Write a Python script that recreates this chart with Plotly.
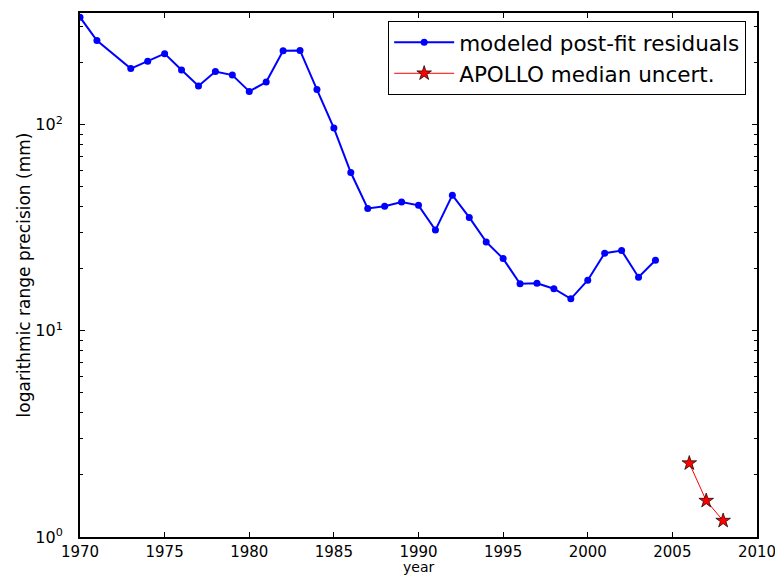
import math
import plotly.graph_objects as go

# Data
model_years = [1970, 1971, 1973, 1974, 1975, 1976, 1977, 1978, 1979, 1980, 1981,
               1982, 1983, 1984, 1985, 1986, 1987, 1988, 1989, 1990, 1991, 1992,
               1993, 1994, 1995, 1996, 1997, 1998, 1999, 2000, 2001, 2002, 2003, 2004]
model_resid = [332, 256, 187, 203, 221, 184, 154, 181, 174, 145, 161,
               228, 229, 148, 96.3, 58.6, 39.2, 40.2, 42.2, 40.6, 30.8, 45.5,
               35.5, 27.0, 22.4, 16.9, 17.0, 16.0, 14.3, 17.6, 23.8, 24.5, 18.2, 22.0]

apollo_years = [2006, 2007, 2008]
apollo_unc = [2.28, 1.50, 1.20]

x_ticks = [1970, 1975, 1980, 1985, 1990, 1995, 2000, 2005, 2010]
y_ticks = [1, 10, 100]
y_ticktext = ["10<sup>0</sup>", "10<sup>1</sup>", "10<sup>2</sup>"]
y_minor = [m * d for d in (1, 10, 100) for m in range(2, 10) if m * d < 350]

FONT = "DejaVu Sans"

fig = go.Figure()
fig.add_trace(go.Scatter(
    x=model_years, y=model_resid, mode="lines+markers",
    name="modeled post-fit residuals",
    line=dict(color="#0000ff", width=2),
    marker=dict(color="#0000ff", size=7, symbol="circle"),
))
fig.add_trace(go.Scatter(
    x=apollo_years, y=apollo_unc, mode="lines+markers",
    name="APOLLO median uncert.",
    line=dict(color="#ff0000", width=1),
    marker=dict(color="#ff0000", size=11, symbol="star",
                line=dict(color="black", width=0.7)),
))

# The page body has an 8px default margin, so the figure is sized to fit the window.
fig.update_layout(
    width=775, height=569,
    margin=dict(l=72, r=26, t=5, b=40, autoexpand=False),
    paper_bgcolor="white", plot_bgcolor="white",
    font=dict(family=FONT, color="black", size=15),
    showlegend=True,
    legend=dict(
        x=0.984, y=0.985, xanchor="right", yanchor="top",
        bordercolor="black", borderwidth=1, bgcolor="white",
        font=dict(size=21.5, family=FONT),
        tracegroupgap=0, itemwidth=60,
    ),
    annotations=[dict(
        text="year", x=0.5, y=0, xref="paper", yref="paper",
        xanchor="center", yanchor="top", yshift=-21, showarrow=False,
        borderpad=0,
        font=dict(size=14, family=FONT, color="black"),
    )],
)

fig.update_xaxes(
    range=[1970, 2010], tickvals=x_ticks, automargin=False,
    ticks="inside", ticklen=5, tickcolor="black", tickwidth=1,
    showline=True, linecolor="black", linewidth=2, mirror="ticks",
    showgrid=False, zeroline=False,
    tickfont=dict(size=15, family=FONT),
)
fig.update_yaxes(
    type="log", range=[0, math.log10(348)], automargin=False,
    tickvals=y_ticks, ticktext=y_ticktext,
    ticks="inside", ticklen=5, tickcolor="black", tickwidth=1,
    minor=dict(tickvals=y_minor, ticks="inside", ticklen=3, tickcolor="black", showgrid=False),
    showline=True, linecolor="black", linewidth=2, mirror="ticks",
    showgrid=False, zeroline=False, ticklabelstandoff=12,
    tickfont=dict(size=16, family=FONT),
    title=dict(text="logarithmic range precision (mm)", font=dict(size=17, family=FONT), standoff=0),
)

fig.write_html("out.html")
